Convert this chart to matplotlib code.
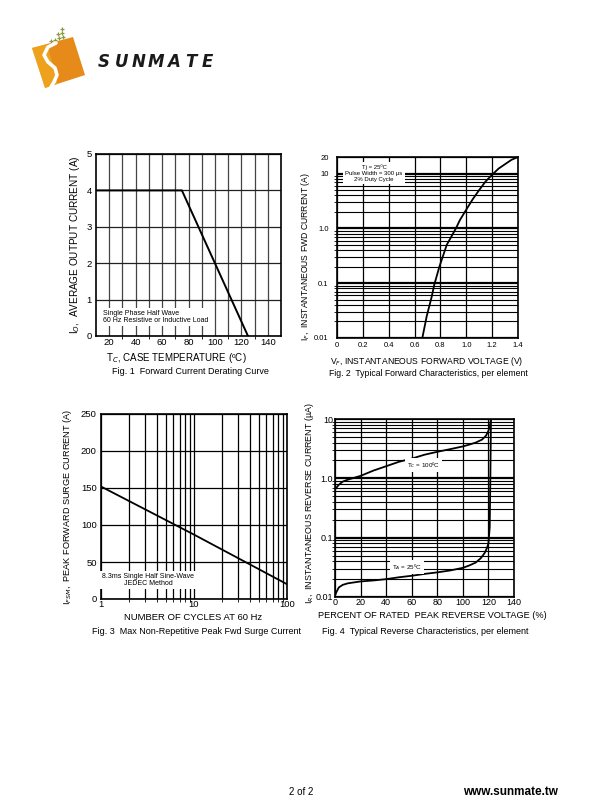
import matplotlib
matplotlib.use("Agg")
import matplotlib.pyplot as plt
import numpy as np
from matplotlib.patches import Polygon
from matplotlib.ticker import FixedLocator, NullFormatter

plt.rcParams["font.family"] = ["Liberation Sans", "DejaVu Sans"]

# Fig. 1 derating curve
derate_temp = [10, 75, 125]
derate_amps = [4, 4, 0]

# Fig. 2 forward characteristics
fwd_volt = [0.66, 0.694, 0.732, 0.753, 0.792, 0.849, 0.92, 0.951, 1.00,
            1.05, 1.10, 1.15, 1.20, 1.25, 1.30, 1.35, 1.40]
fwd_amps = [0.01, 0.025, 0.056, 0.095, 0.2, 0.5, 1.0, 1.42, 2.2,
            3.4, 5.0, 7.2, 9.5, 12.3, 14.8, 17.8, 20]

# Fig. 3 surge current
surge_cycles = [1, 10, 100]
surge_amps = [152, 87, 20]

# Fig. 4 reverse characteristics
rev_pct_hot = [0, 3, 6, 10, 20, 30, 40, 50, 60, 70, 80, 90, 100, 105, 110,
               115, 118, 120, 121, 122]
rev_ua_hot = [0.65, 0.78, 0.88, 0.95, 1.1, 1.35, 1.6, 1.9, 2.15, 2.5, 2.8,
              3.1, 3.45, 3.7, 4.0, 4.5, 5.2, 6.3, 7.5, 10]
rev_pct_cold = [0, 1, 3, 6, 10, 20, 30, 40, 50, 60, 70, 80, 90, 100, 105,
                110, 114, 117, 119, 120, 121, 121.5, 122]
rev_ua_cold = [0.0105, 0.012, 0.0145, 0.016, 0.017, 0.0183, 0.019, 0.020,
               0.0215, 0.0228, 0.0245, 0.026, 0.028, 0.031, 0.034, 0.038,
               0.045, 0.055, 0.068, 0.08, 0.15, 1.0, 10]

W, H = 610, 810
fig = plt.figure(figsize=(W / 100, H / 100), dpi=100)


def px_axes(x0, y0, x1, y1):
    return fig.add_axes([x0 / W, 1 - y1 / H, (x1 - x0) / W, (y1 - y0) / H])


def ftext(x, y, s, **kw):
    fig.text(x / W, 1 - y / H, s, **kw)


def style(ax, size, xpad=1.5, ypad=3):
    ax.tick_params(length=0, labelsize=size)
    ax.tick_params(axis="x", pad=xpad)
    ax.tick_params(axis="y", pad=ypad)
    for sp in ax.spines.values():
        sp.set_linewidth(1.2)
        sp.set_color("black")
    ax.set_axisbelow(True)


box = dict(facecolor="white", edgecolor="none", pad=1.5)

# ---- Fig. 1
ax1 = px_axes(96, 154, 281, 336)
ax1.set_xlim(10, 150)
ax1.set_ylim(0, 5)
ax1.set_xticks(range(20, 141, 20))
ax1.set_yticks(range(0, 6))
ax1.xaxis.set_minor_locator(FixedLocator(range(30, 141, 20)))
ax1.grid(True, which="both", axis="x", color="#444", lw=0.9)
ax1.grid(True, axis="y", color="#222", lw=0.9)
style(ax1, 6.8)
ax1.plot(derate_temp, derate_amps, color="black", lw=1.4)
ax1.text(15, 0.52, "Single Phase Half Wave\n60 Hz Resistive or Inductive Load",
         fontsize=5, va="center", ha="left", linespacing=1.1, bbox=box)
ftext(75, 245, "I$_O$,  AVERAGE OUTPUT CURRENT (A)", rotation=90,
      ha="center", va="center", fontsize=7.2)
ftext(176, 358, "T$_C$, CASE TEMPERATURE (ºC)", ha="center", va="center", fontsize=7)
ftext(190, 371, "Fig. 1  Forward Current Derating Curve", ha="center",
      va="center", fontsize=6.5)

# ---- Fig. 2
ax2 = px_axes(337, 157, 518, 338)
ax2.set_yscale("log")
ax2.set_xlim(0, 1.4)
ax2.set_ylim(0.01, 20)
ax2.set_xticks(np.arange(0, 1.41, 0.2))
ax2.set_xticklabels(["0", "0.2", "0.4", "0.6", "0.8", "1.0", "1.2", "1.4"])
ax2.set_yticks([0.01, 0.1, 1.0, 10, 20])
ax2.set_yticklabels(["0.01", "0.1", "1.0", "10", "20"])
ax2.yaxis.set_minor_formatter(NullFormatter())
ax2.grid(True, which="major", color="black", lw=1.6)
ax2.grid(True, which="minor", axis="y", color="black", lw=0.8)
ax2.grid(True, which="major", axis="x", color="black", lw=0.9)
style(ax2, 5.5, xpad=3, ypad=6)
ax2.plot(fwd_volt, fwd_amps, color="black", lw=1.3)
ax2.text(0.286, 10.2, "Tj = 25ºC\nPulse Width = 300 µs\n2% Duty Cycle",
         fontsize=4.3, ha="center", va="center", linespacing=1.2, bbox=box)
ftext(305, 257, "I$_F$,  INSTANTANEOUS FWD CURRENT (A)", rotation=90,
      ha="center", va="center", fontsize=6.2)
ftext(427, 361, "V$_F$, INSTANTANEOUS FORWARD VOLTAGE (V)", ha="center",
      va="center", fontsize=6.2)
ftext(428, 373, "Fig. 2  Typical Forward Characteristics, per element",
      ha="center", va="center", fontsize=6.2)

# ---- Fig. 3
ax3 = px_axes(101, 414, 287, 599)
ax3.set_xscale("log")
ax3.set_xlim(1, 100)
ax3.set_ylim(0, 250)
ax3.set_xticks([1, 10, 100])
ax3.set_xticklabels(["1", "10", "100"])
ax3.xaxis.set_minor_formatter(NullFormatter())
ax3.set_yticks(range(0, 251, 50))
ax3.grid(True, which="both", color="black", lw=0.9)
style(ax3, 6.8, xpad=0.5)
ax3.plot(surge_cycles, surge_amps, color="black", lw=1.3)
ax3.text(3.2, 25.7, "8.3ms Single Half Sine-Wave\nJEDEC Method", fontsize=5,
         ha="center", va="center", linespacing=1.1, bbox=box)
ftext(68, 507, "I$_{FSM}$,  PEAK FORWARD SURGE CURRENT (A)", rotation=90,
      ha="center", va="center", fontsize=6.6)
ftext(193, 617, "NUMBER OF CYCLES AT 60 Hz", ha="center", va="center", fontsize=6.8)
ftext(197, 632, "Fig. 3  Max Non-Repetitive Peak Fwd Surge Current",
      ha="center", va="center", fontsize=6.5)

# ---- Fig. 4
ax4 = px_axes(335, 419, 514, 597)
ax4.set_yscale("log")
ax4.set_xlim(0, 140)
ax4.set_ylim(0.01, 10)
ax4.set_xticks(range(0, 141, 20))
ax4.set_yticks([0.01, 0.1, 1.0, 10])
ax4.set_yticklabels(["0.01", "0.1", "1.0", "10"])
ax4.yaxis.set_minor_formatter(NullFormatter())
ax4.grid(True, which="major", color="black", lw=1.6)
ax4.grid(True, which="minor", axis="y", color="black", lw=0.8)
ax4.grid(True, which="major", axis="x", color="black", lw=0.9)
style(ax4, 6.5, xpad=0.5, ypad=1.5)
ax4.plot(rev_pct_hot, rev_ua_hot, color="black", lw=1.3)
ax4.plot(rev_pct_cold, rev_ua_cold, color="black", lw=1.3)
ax4.text(69, 1.68, "T$_C$ = 100ºC", fontsize=4.5, ha="center", va="center", bbox=box)
ax4.text(56, 0.0316, "T$_A$ = 25ºC", fontsize=4.5, ha="center", va="center", bbox=box)
ftext(309, 503, "I$_R$,  INSTANTANEOUS REVERSE CURRENT (µA)", rotation=90,
      ha="center", va="center", fontsize=6.4)
ftext(432, 616, "PERCENT OF RATED  PEAK REVERSE VOLTAGE (%)", ha="center",
      va="center", fontsize=6.6)
ftext(425, 632, "Fig. 4  Typical Reverse Characteristics, per element",
      ha="center", va="center", fontsize=6.5)

# ---- logo
lg = fig.add_axes([0, 0, 1, 1], zorder=-1)
lg.set_xlim(0, W)
lg.set_ylim(H, 0)
lg.axis("off")
lg.add_patch(Polygon([(32, 48), (73, 37), (85, 75), (45, 88)],
                     closed=True, facecolor="#e68a1a", edgecolor="none"))
lg.add_patch(Polygon([(32, 48), (47, 44), (58, 84), (45, 88)],
                     closed=True, facecolor="#f2b21e", edgecolor="none", alpha=0.6))
lg.plot([56, 48, 44, 48, 55, 57, 54, 51], [43, 47, 55, 62, 68, 75, 82, 87],
        color="white", lw=2.6, solid_capstyle="round")
lg.scatter([51, 55, 59, 63, 58, 62, 62], [41, 40, 38, 37, 34, 33, 29],
           marker="+", s=8, color="#8a9a40", lw=0.9)
for i, ch in enumerate("SUNMATE"):
    lg.text(104 + i * 17.3, 62, ch, fontsize=12, fontweight="bold",
            fontstyle="italic", color="#1a1a1a", ha="center", va="center",
            family="DejaVu Sans")

# ---- footer
ftext(301, 792, "2 of 2", ha="center", va="center", fontsize=7)
ftext(510, 792, "www.sunmate.tw", ha="center", va="center", fontsize=8.5,
      fontweight="bold")

fig.savefig("out.png", dpi=100)
